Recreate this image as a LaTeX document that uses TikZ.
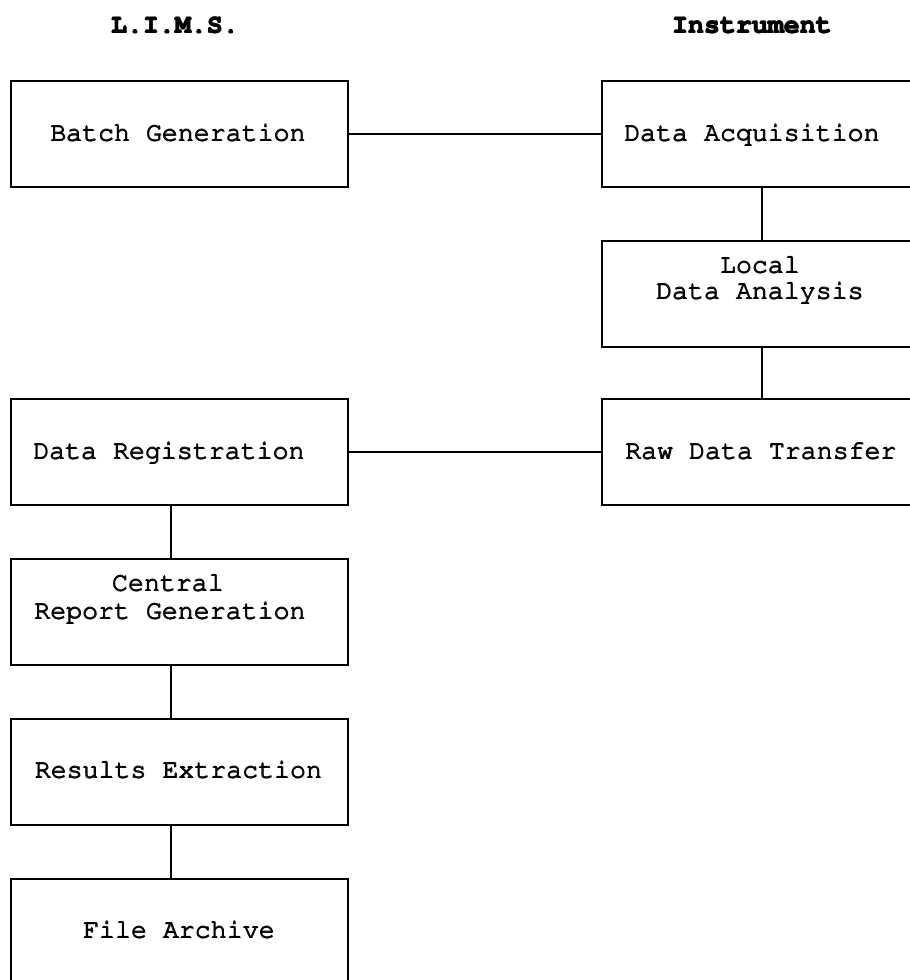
\documentclass[tikz,border=0pt]{standalone}
\usepackage[T1]{fontenc}
\usepackage{courier}
% heavier typewriter strokes: the text is laid down three times, slightly offset
\newcommand\inkbold[1]{\rlap{#1}\rlap{\kern1.1pt#1}\kern0.55pt\raisebox{0.7pt}{#1}\kern0.55pt}
\begin{document}
\begin{tikzpicture}[x=1pt,y=-1pt,
  box/.style={draw, line width=1.8pt, minimum width=337pt, minimum height=106pt,
    anchor=north west, inner sep=0pt},
  boxtext/.style={font=\ttfamily\fontsize{26.6}{26}\selectfont, anchor=base, inner sep=0pt},
  heading/.style={font=\ttfamily\bfseries\fontsize{26.6}{26}\selectfont, anchor=base, inner sep=0pt},
  link/.style={line width=1.5pt}]

\useasboundingbox (0,0) rectangle (910,980);
\clip (0,0) rectangle (910,980);

% axes of the vertical links
\coordinate (laxis) at (171,0);
\coordinate (raxis) at (762,0);

% column headings
\node[heading] (hl) at (175,33) {\inkbold{L.I.M.S.}};
\node[heading] (hr) at (752,33) {\inkbold{Instrument}};

% L.I.M.S. column
\node[box] (batch)   at (10,80)  {};
\node[box] (reg)     at (10,398) {};
\node[box] (central) at (10,558) {};
\node[box] (results) at (10,718) {};
\node[box] (archive) at (10,878) {};

% instrument column
\node[box] (acq)   at (601,80)  {};
\node[box] (local) at (601,240) {};
\node[box] (raw)   at (601,398) {};

% box texts
\node[boxtext] (batchT)    at (178,141) {\inkbold{Batch Generation}};
\node[boxtext] (regT)      at (169,459) {\inkbold{Data Registration}};
\node[boxtext] (centralT)  at (168,591) {\inkbold{Central}};
\node[boxtext] (centralT2) at (170,619) {\inkbold{Report Generation}};
\node[boxtext] (resultsT)  at (178.5,778) {\inkbold{Results Extraction}};
\node[boxtext] (archiveT)  at (179,938) {\inkbold{File Archive}};
\node[boxtext] (acqT)      at (752,141) {\inkbold{Data Acquisition}};
\node[boxtext] (localT)    at (760,273) {\inkbold{Local}};
\node[boxtext] (localT2)   at (760,299) {\inkbold{Data Analysis}};
\node[boxtext] (rawT)      at (761,459) {\inkbold{Raw Data Transfer}};

% horizontal links between the columns
\draw[link] (batch.east) -- (acq.west);
\draw[link] (reg.east) -- (raw.west);

% vertical links within the columns
\draw[link] (acq.south -| raxis) -- (local.north -| raxis);
\draw[link] (local.south -| raxis) -- (raw.north -| raxis);
\draw[link] (reg.south -| laxis) -- (central.north -| laxis);
\draw[link] (central.south -| laxis) -- (results.north -| laxis);
\draw[link] (results.south -| laxis) -- (archive.north -| laxis);
\end{tikzpicture}
\end{document}
